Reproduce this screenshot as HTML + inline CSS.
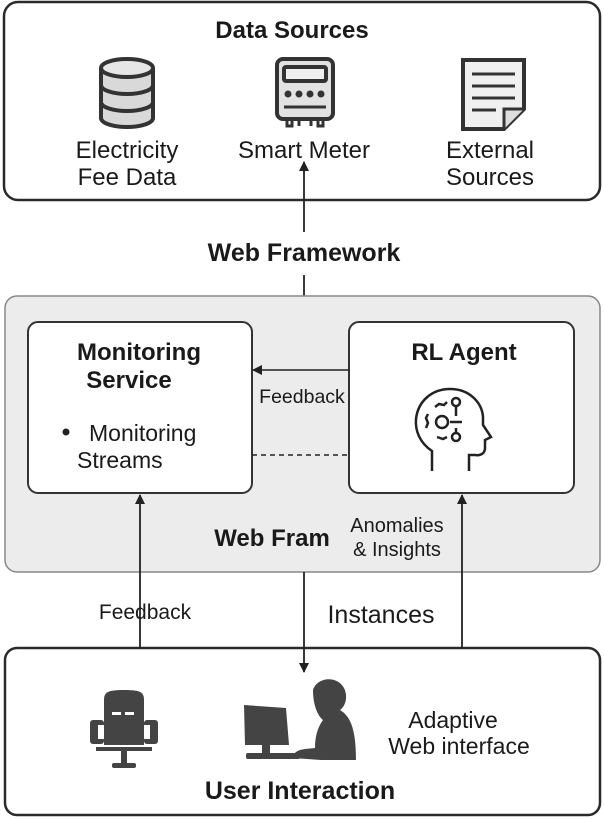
<!DOCTYPE html>
<html><head><meta charset="utf-8"><style>body{margin:0;background:#fff}svg{display:block}text{font-family:"Liberation Sans",sans-serif;fill:#1a1a1a}</style></head><body>
<svg width="604" height="819" viewBox="0 0 604 819" xmlns="http://www.w3.org/2000/svg">
<defs><marker id="a" markerWidth="10" markerHeight="10" refX="9" refY="5" orient="auto" markerUnits="userSpaceOnUse"><path d="M0,0 L10,5 L0,10 z" fill="#222"/></marker></defs>
<!-- top box -->
<rect x="4" y="2" width="596" height="198" rx="14" fill="#fff" stroke="#2a2a2a" stroke-width="2.5"/>
<text x="292" y="38" font-size="24" font-weight="bold" text-anchor="middle">Data Sources</text>
<!-- DB -->
<g stroke="#333" stroke-width="4" fill="#d9d9d9">
<path d="M101,68 v50 a26,9 0 0 0 52,0 v-50"/>
<ellipse cx="127" cy="68" rx="26" ry="9" fill="#e6e6e6"/>
<path d="M101,85 a26,9 0 0 0 52,0 M101,102 a26,9 0 0 0 52,0" fill="none"/>
</g>
<!-- meter -->
<g stroke="#333" stroke-width="4" fill="#e2e2e2">
<rect x="277" y="59" width="56" height="60" rx="6"/>
<rect x="284" y="67" width="42" height="14" rx="2" fill="#f0f0f0"/>
<path d="M284,107 h42" fill="none" stroke-width="3"/>
<path d="M287,119 v7 h5 v-7 M299,119 v7 M311,119 v7 M318,119 v7 h5 v-7" fill="none" stroke-width="3"/>
</g>
<g fill="#333"><circle cx="288" cy="94" r="3.5"/><circle cx="299" cy="94" r="3.5"/><circle cx="310" cy="94" r="3.5"/><circle cx="321" cy="94" r="3.5"/></g>
<!-- doc -->
<g stroke="#333" stroke-width="4" fill="#f0f0f0">
<path d="M463,60 h61 v49 l-20,20 h-41 z"/>
<path d="M504,129 v-20 h20" fill="#ddd" stroke-width="3"/>
<path d="M472,74 h43 M472,86 h43 M472,98 h43 M472,110 h24" stroke-width="3"/>
</g>
<g font-size="24" text-anchor="middle">
<text x="127" y="158">Electricity</text><text x="127" y="185">Fee Data</text>
<text x="304" y="158">Smart Meter</text>
<text x="490" y="158">External</text><text x="490" y="185">Sources</text>
</g>
<line x1="304" y1="232" x2="304" y2="162" stroke="#222" stroke-width="1.8" marker-end="url(#a)"/>
<text x="304" y="261" font-size="25" font-weight="bold" text-anchor="middle">Web Framework</text>
<line x1="304" y1="275" x2="304" y2="296" stroke="#222" stroke-width="1.8"/>
<!-- middle -->
<rect x="5" y="296" width="595" height="276" rx="12" fill="#ececec" stroke="#888" stroke-width="1.5"/>
<rect x="28" y="322" width="224" height="171" rx="10" fill="#fff" stroke="#333" stroke-width="2"/>
<rect x="349" y="322" width="225" height="171" rx="10" fill="#fff" stroke="#333" stroke-width="2"/>
<text x="139" y="360" font-size="24" font-weight="bold" text-anchor="middle">Monitoring</text>
<text x="129" y="388" font-size="24" font-weight="bold" text-anchor="middle">Service</text>
<circle cx="66" cy="432" r="3.5" fill="#222"/>
<text x="89" y="441" font-size="23">Monitoring</text>
<text x="77" y="468" font-size="23">Streams</text>
<text x="464" y="360" font-size="24" font-weight="bold" text-anchor="middle">RL Agent</text>
<line x1="349" y1="370" x2="253" y2="370" stroke="#222" stroke-width="1.5" marker-end="url(#a)"/>
<text x="302" y="403" font-size="19.5" text-anchor="middle">Feedback</text>
<line x1="252" y1="455" x2="349" y2="455" stroke="#222" stroke-width="1.5" stroke-dasharray="5,4"/>
<!-- head icon -->
<g fill="none" stroke="#222" stroke-width="2.5">
<path d="M432,471 v-20 c-12,-8 -17,-20 -16,-32 c2,-18 16,-30 34,-30 c20,0 32,14 33,28 l0,8 l8,12 l-6,3 v8 c0,5 -4,8 -10,7 h-6 v16"/>
<circle cx="442" cy="422" r="6"/>
<path d="M435,407 l4,-3 l5,1 l3,-3 M456,416 v-10 M456,433 v-5 M450,422 h12 M447,437 l-4,2 l-6,-2 M428,414 l-2,4 l2,5 l-2,5"/>
<circle cx="456" cy="402" r="4"/><circle cx="456" cy="437" r="4"/>
</g>
<text x="272" y="546" font-size="24" font-weight="bold" text-anchor="middle">Web Fram</text>
<text x="397" y="532" font-size="20" text-anchor="middle">Anomalies</text>
<text x="397" y="556" font-size="20" text-anchor="middle">&amp; Insights</text>
<!-- bottom -->
<rect x="5" y="648" width="595" height="167" rx="12" fill="#fff" stroke="#2a2a2a" stroke-width="2.5"/>
<!-- arrows -->
<line x1="140" y1="648" x2="140" y2="495" stroke="#222" stroke-width="1.8" marker-end="url(#a)"/>
<line x1="462" y1="648" x2="462" y2="495" stroke="#222" stroke-width="1.8" marker-end="url(#a)"/>
<line x1="304" y1="572" x2="304" y2="672" stroke="#222" stroke-width="1.8" marker-end="url(#a)"/>
<text x="145" y="619" font-size="21" text-anchor="middle">Feedback</text>
<text x="381" y="623" font-size="25" text-anchor="middle">Instances</text>
<g fill="#444">
<path d="M104,700 c0,-8 4,-10 20,-10 c16,0 20,2 20,10 v45 h-40 z"/>
<rect x="90" y="720" width="14" height="24" rx="3"/><rect x="144" y="720" width="14" height="24" rx="3"/>
<rect x="96" y="747" width="56" height="4"/><rect x="121" y="751" width="6" height="14"/><rect x="112" y="763" width="24" height="5" rx="2"/>
</g>
<g fill="#fff"><rect x="98" y="725" width="6" height="14"/><rect x="144" y="725" width="6" height="14"/><rect x="112" y="712" width="9" height="3"/><rect x="125" y="712" width="9" height="3"/></g>
<g fill="#444">
<path d="M244,705 l42,3 l3,37 l-44,0 z"/>
<rect x="262" y="744" width="8" height="10"/><rect x="246" y="753" width="54" height="6" rx="2"/>
<path d="M313,690 c4,-13 24,-15 31,-2 c4,8 2,18 -4,22 c10,6 16,18 16,50 h-35 l-28,-2 c0,-5 4,-8 12,-9 l10,-1 c0,-10 2,-20 8,-28 c-6,-5 -10,-16 -10,-30 z"/>
</g>
<text x="453" y="728" font-size="23" text-anchor="middle">Adaptive</text>
<text x="459" y="754" font-size="23" text-anchor="middle">Web interface</text>
<text x="300" y="799" font-size="25" font-weight="bold" text-anchor="middle">User Interaction</text>
</svg>
</body></html>
